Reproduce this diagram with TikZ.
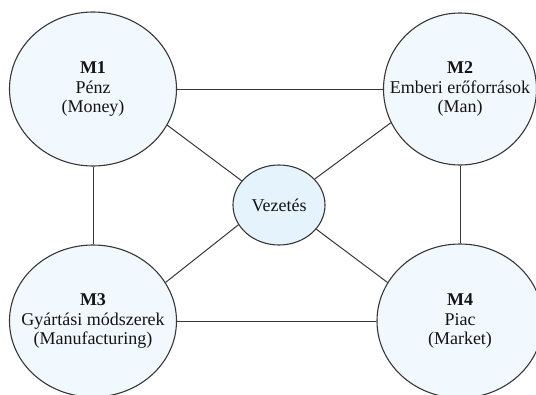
\documentclass[tikz,border=0pt]{standalone}
\usepackage{fontspec}
\setmainfont{Liberation Serif}
\usetikzlibrary{shapes.geometric}
\definecolor{mfill}{RGB}{241,249,254}
\definecolor{vfill}{RGB}{229,243,252}
\definecolor{edgec}{RGB}{55,55,55}
\definecolor{txtc}{RGB}{20,20,20}
\begin{document}
\begin{tikzpicture}[x=1pt,y=-1pt,
  mball/.style={ellipse,draw=edgec,line width=1.1pt,fill=mfill,inner sep=0pt},
  vball/.style={mball,fill=vfill},
  mtext/.style={align=center,inner sep=0pt,text=txtc,font=\fontsize{18}{19.5}\selectfont},
  link/.style={draw=edgec,line width=1pt}]
\useasboundingbox (0,0) rectangle (536,394);
\node[mball,minimum width=167pt,minimum height=154pt,label={[mtext]center:\textbf{M1}\\Pénz\\(Money)}] (M1) at (93,89) {};
\node[mball,minimum width=153pt,minimum height=152pt,label={[mtext]center:\textbf{M2}\\Emberi erőforrások\\(Man)}] (M2) at (460,89) {};
\node[mball,minimum width=167pt,minimum height=152pt,label={[mtext]center:\textbf{M3}\\Gyártási módszerek\\(Manufacturing)}] (M3) at (93,321) {};
\node[mball,minimum width=166pt,minimum height=154pt,label={[mtext]center:\textbf{M4}\\Piac\\(Market)}] (M4) at (460,321) {};
\node[vball,minimum width=92pt,minimum height=80pt,label={[mtext]center:Vezetés}] (V) at (279,205) {};
\draw[link] (M1) -- (M2);
\draw[link] (M3) -- (M4);
\draw[link] (M1) -- (M3);
\draw[link] (M2) -- (M4);
\draw[link] (M1.-26) -- (V.147);
\draw[link] (M2.206) -- (V.36);
\draw[link] (M3.28) -- (V.206);
\draw[link] (M4.152) -- (V.-33);
\end{tikzpicture}
\end{document}
